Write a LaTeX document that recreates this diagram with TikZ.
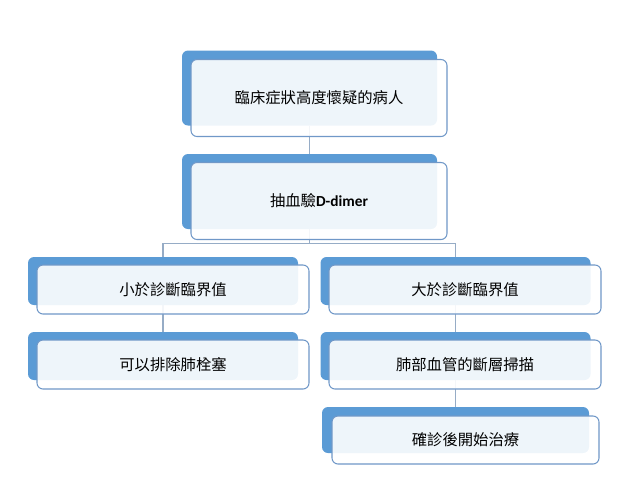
\documentclass[tikz,border=0pt]{standalone}
\usepackage{fontspec}
\setmainfont{Noto Sans CJK TC}
\newfontfamily\latinfont{Carlito}
\usetikzlibrary{backgrounds}

\definecolor{boxblue}{RGB}{91,155,213}
\definecolor{cardline}{RGB}{112,152,200}
\definecolor{linkgray}{RGB}{150,172,198}

\tikzset{
  back/.style={fill=boxblue, rounded corners=4.5pt, inner sep=0pt},
  card/.style={draw=cardline, line width=0.8pt, fill=white, fill opacity=0.9,
    text opacity=1, rounded corners=4.5pt, inner sep=0pt, font=\fontsize{11.5pt}{14pt}\selectfont},
  topback/.style={back, minimum width=191.25pt, minimum height=56.25pt},
  topcard/.style={card, minimum width=192pt, minimum height=57.75pt},
  colback/.style={back, minimum width=202.5pt, minimum height=36pt},
  colcard/.style={card, minimum width=204pt, minimum height=36.75pt},
  link/.style={draw=linkgray, line width=1.1pt}
}

\begin{document}
\begin{tikzpicture}[x=0.75pt, y=-0.75pt]

    \useasboundingbox (0,0) rectangle (618,480);

    % Top: suspicion and D-dimer test
    \node[topback] (t1b) at (309.5, 88) {};
    \node[topcard] (t1) at (319, 98) {臨床症狀高度懷疑的病人};

    \node[topback] (t2b) at (309.5, 191.5) {};
    \node[topcard] (t2) at (319, 201) {抽血驗{\latinfont\bfseries D-dimer}};

    % Left branch: below cut-off
    \node[colback] (l1b) at (163, 281) {};
    \node[colcard] (l1) at (173, 289.5) {小於診斷臨界值};

    \node[colback] (l2b) at (163, 356) {};
    \node[colcard] (l2) at (173, 364.5) {可以排除肺栓塞};

    % Right branch: above cut-off
    \node[colback] (r1b) at (455.5, 281) {};
    \node[colcard] (r1) at (465, 289.5) {大於診斷臨界值};

    \node[colback] (r2b) at (455.5, 356) {};
    \node[colcard] (r2) at (465, 364.5) {肺部血管的斷層掃描};

    \node[back, minimum width=200.25pt, minimum height=34.5pt] (r3b) at (455.5, 430) {};
    \node[card, minimum width=200.25pt, minimum height=36pt] (r3) at (465.5, 440) {確診後開始治療};

    % Connectors behind the boxes
    \begin{scope}[on background layer]
        \draw[link] (t1b.south) -- (t2b.north);
        \draw[link] (t2b.south) -- ++(0,14) -| (l1b.north);
        \draw[link] (t2b.south) -- ++(0,14) -| (r1b.north);
        \draw[link] (l1b.south) -- (l2b.north);
        \draw[link] (r1b.south) -- (r2b.north);
        \draw[link] (r2b.south) -- (r3b.north);
    \end{scope}

\end{tikzpicture}
\end{document}
